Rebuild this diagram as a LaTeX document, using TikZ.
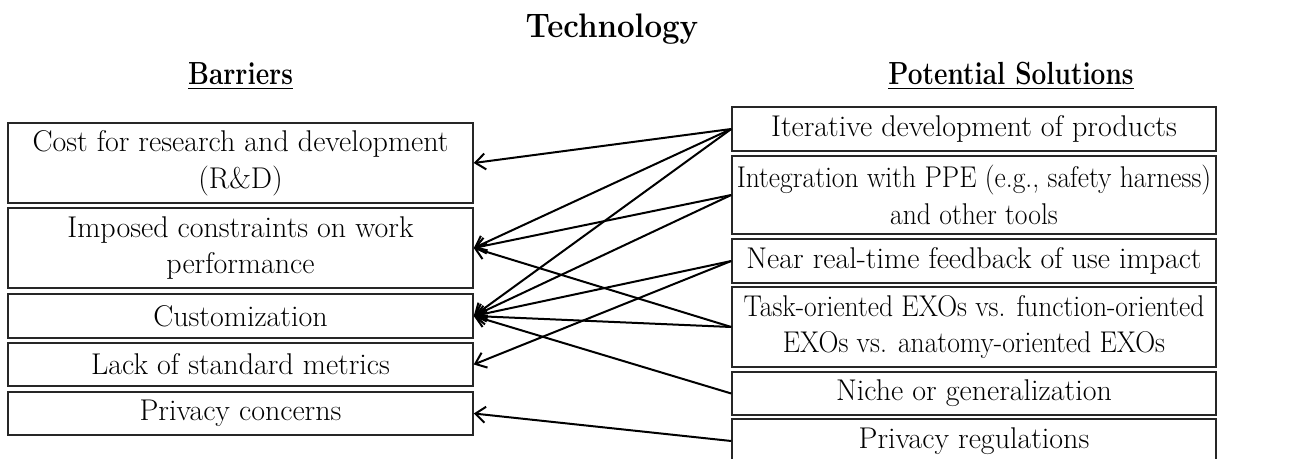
\documentclass[tikz,border=0pt]{standalone}
\usetikzlibrary{arrows.meta}
\newcommand{\wline}[1]{\makebox[236pt]{\scalebox{0.92}[1]{#1}}}
\begin{document}
\begin{tikzpicture}[x=0.5pt,y=-0.5pt,
  box/.style={draw=black!85, line width=0.75pt, inner xsep=0pt, inner ysep=0pt,
    align=center, font=\fontsize{15}{18.3}\selectfont},
  lbox/.style={box, minimum width=232.5pt},
  rbox/.style={box, minimum width=242pt},
  link/.style={line width=1pt, -{Straight Barb[length=5pt,width=8pt]}},
  head/.style={font=\bfseries\fontsize{16}{19}\selectfont, anchor=base}]
\useasboundingbox (0,0) rectangle (1295,459);
\clip (0,0) rectangle (1295,459);
\node[anchor=base, font=\bfseries\fontsize{17}{20}\selectfont] (title) at (612,38) {\scalebox{0.92}[1]{Technology}};
\node[head] (bar) at (240.5,85) {\scalebox{0.82}[1]{\underline{Barriers}}};
\node[head] (sol) at (1011,85) {\scalebox{0.82}[1]{\underline{Potential Solutions}}};
% barriers
\node[lbox, minimum height=40pt] (cost) at (240.5,163) {Cost for research and development\\(R\&D)};
\node[lbox, minimum height=40pt] (imp) at (240.5,248) {Imposed constraints on work\\performance};
\node[lbox, minimum height=22pt] (cust) at (240.5,316) {Customization};
\node[lbox, minimum height=21.5pt] (lack) at (240.5,364.5) {Lack of standard metrics};
\node[lbox, minimum height=21.5pt] (priv) at (240.5,413.5) {Privacy concerns};
% solutions
\node[rbox, minimum height=22pt] (iter) at (974,129) {Iterative development of products};
\node[rbox, minimum height=39pt] (integ) at (974,195) {\wline{Integration with PPE (e.g., safety harness)}\\\wline{and other tools}};
\node[rbox, minimum height=22pt] (near) at (974,261) {Near real-time feedback of use impact};
\node[rbox, minimum height=40pt] (task) at (974,327) {\wline{Task-oriented EXOs vs. function-oriented}\\\wline{EXOs vs. anatomy-oriented EXOs}};
\node[rbox, minimum height=21.5pt] (niche) at (974,393.5) {Niche or generalization};
\node[rbox, minimum height=22pt] (preg) at (974,441) {Privacy regulations};
% links
\draw[link] (iter.west) -- (cost.east);
\draw[link] (iter.west) -- (imp.east);
\draw[link] (iter.west) -- (cust.east);
\draw[link] (integ.west) -- (imp.east);
\draw[link] (integ.west) -- (cust.east);
\draw[link] (near.west) -- (cust.east);
\draw[link] (near.west) -- (lack.east);
\draw[link] (task.west) -- (imp.east);
\draw[link] (task.west) -- (cust.east);
\draw[link] (niche.west) -- (cust.east);
\draw[link] (preg.west) -- (priv.east);
\end{tikzpicture}
\end{document}
